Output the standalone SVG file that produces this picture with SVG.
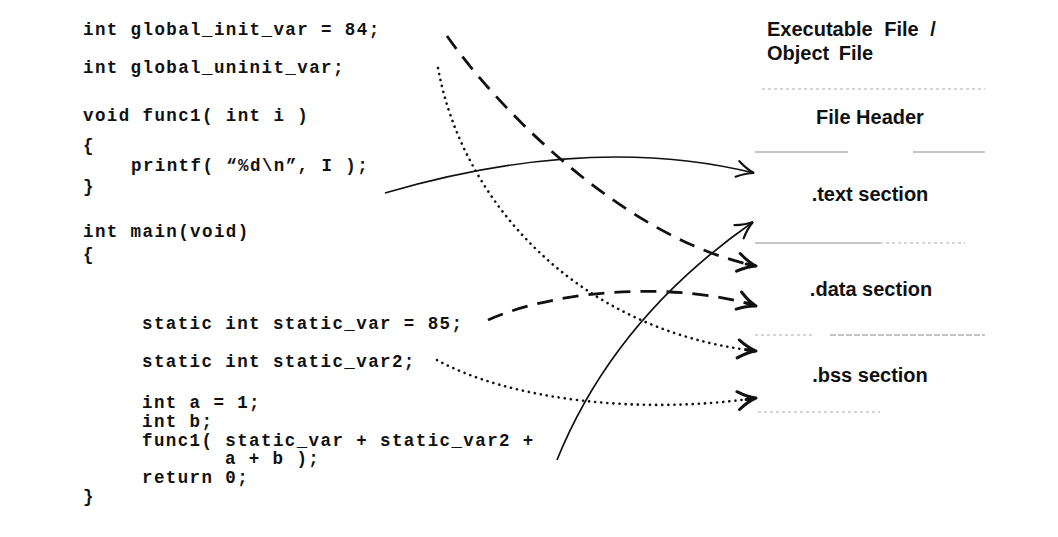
<svg xmlns="http://www.w3.org/2000/svg" width="1058" height="537" viewBox="0 0 1058 537">
<style>
.code{font-family:"Liberation Mono","DejaVu Sans Mono",monospace;font-weight:bold;font-size:17.5px;letter-spacing:1.4px;fill:#111;white-space:pre}
.lbl{font-family:"Liberation Sans",Arial,sans-serif;font-weight:bold;font-size:20px;fill:#111}
.mid{text-anchor:middle}
.rule{stroke:#8a8a8a;stroke-width:1.2;fill:none}
.faint{stroke:#aaa;stroke-width:1;stroke-dasharray:3 3;fill:none}
.solid{stroke:#111;stroke-width:1.7;fill:none}
.dash{stroke:#111;stroke-width:2.8;fill:none;stroke-dasharray:16 10}
.dot{stroke:#111;stroke-width:2.6;fill:none;stroke-dasharray:0.1 6;stroke-linecap:round}
</style>
<defs>
<marker id="ah" markerUnits="userSpaceOnUse" orient="auto" viewBox="-22 -12 24 24" markerWidth="24" markerHeight="24" refX="0" refY="0" overflow="visible">
<path d="M-18,-9 Q-8,-2 0,0 Q-8,2 -18,9 M-10,0 H0" fill="none" stroke="#111" stroke-width="3" stroke-linecap="round"/>
</marker>
<marker id="ahs" markerUnits="userSpaceOnUse" orient="auto" viewBox="-22 -12 24 24" markerWidth="24" markerHeight="24" refX="0" refY="0" overflow="visible">
<path d="M-17,-8 Q-8,-2 0,0 Q-8,2 -17,8" fill="none" stroke="#111" stroke-width="2.2" stroke-linecap="round"/>
</marker>
</defs>
<rect width="1058" height="537" fill="#fff"/>

<g id="source-code">
<text class="code" x="83" y="35">int global_init_var = 84;</text>
<text class="code" x="83" y="73">int global_uninit_var;</text>
<text class="code" x="83" y="121">void func1( int i )</text>
<text class="code" x="83" y="151">{</text>
<text class="code" x="131" y="171">printf( “%d\n”, I );</text>
<text class="code" x="83" y="192">}</text>
<text class="code" x="83" y="237">int main(void)</text>
<text class="code" x="83" y="260">{</text>
<text class="code" x="142" y="329">static int static_var = 85;</text>
<text class="code" x="142" y="367">static int static_var2;</text>
<text class="code" x="142" y="408">int a = 1;</text>
<text class="code" x="142" y="427">int b;</text>
<text class="code" x="142" y="446">func1( static_var + static_var2 +</text>
<text class="code" x="225" y="464">a + b );</text>
<text class="code" x="142" y="483">return 0;</text>
<text class="code" x="83" y="502">}</text>
</g>

<g id="file-title">
<text class="lbl" x="767" y="36" word-spacing="6">Executable File /</text>
<text class="lbl" x="767" y="60" word-spacing="4">Object File</text>
</g>

<g id="file-layout">
<path class="faint" d="M762,89 H985"/>
<path class="rule" d="M755,152 H848 M913,152 H985"/>
<path class="rule" d="M755,243 H880"/>
<path class="faint" d="M880,243 H965"/>
<path class="faint" d="M755,335 H815"/>
<path class="rule" d="M830,335 H985" stroke-dasharray="6 2"/>
<path class="faint" d="M758,412 H880"/>
</g>

<g id="file-header"><text class="lbl mid" x="870" y="124">File Header</text></g>
<g id="text-section"><text class="lbl mid" x="870" y="201">.text section</text></g>
<g id="data-section"><text class="lbl mid" x="871" y="296">.data section</text></g>
<g id="bss-section"><text class="lbl mid" x="870" y="382">.bss section</text></g>

<g id="connectors">
<path class="solid" d="M385,193 Q591,133 754,173" marker-end="url(#ahs)"/>
<path class="dash" d="M447,36 C505,118 630,240 756,266" marker-end="url(#ah)"/>
<path class="dot" d="M438,68 C462,200 575,330 756,351" marker-end="url(#ah)"/>
<path class="dash" d="M488,320 C560,288 680,282 756,306" marker-end="url(#ah)"/>
<path class="dot" d="M437,360 C510,400 640,415 756,398" marker-end="url(#ah)"/>
<path class="solid" d="M557,460 Q614,319 753,222" marker-end="url(#ahs)"/>
</g>
</svg>
